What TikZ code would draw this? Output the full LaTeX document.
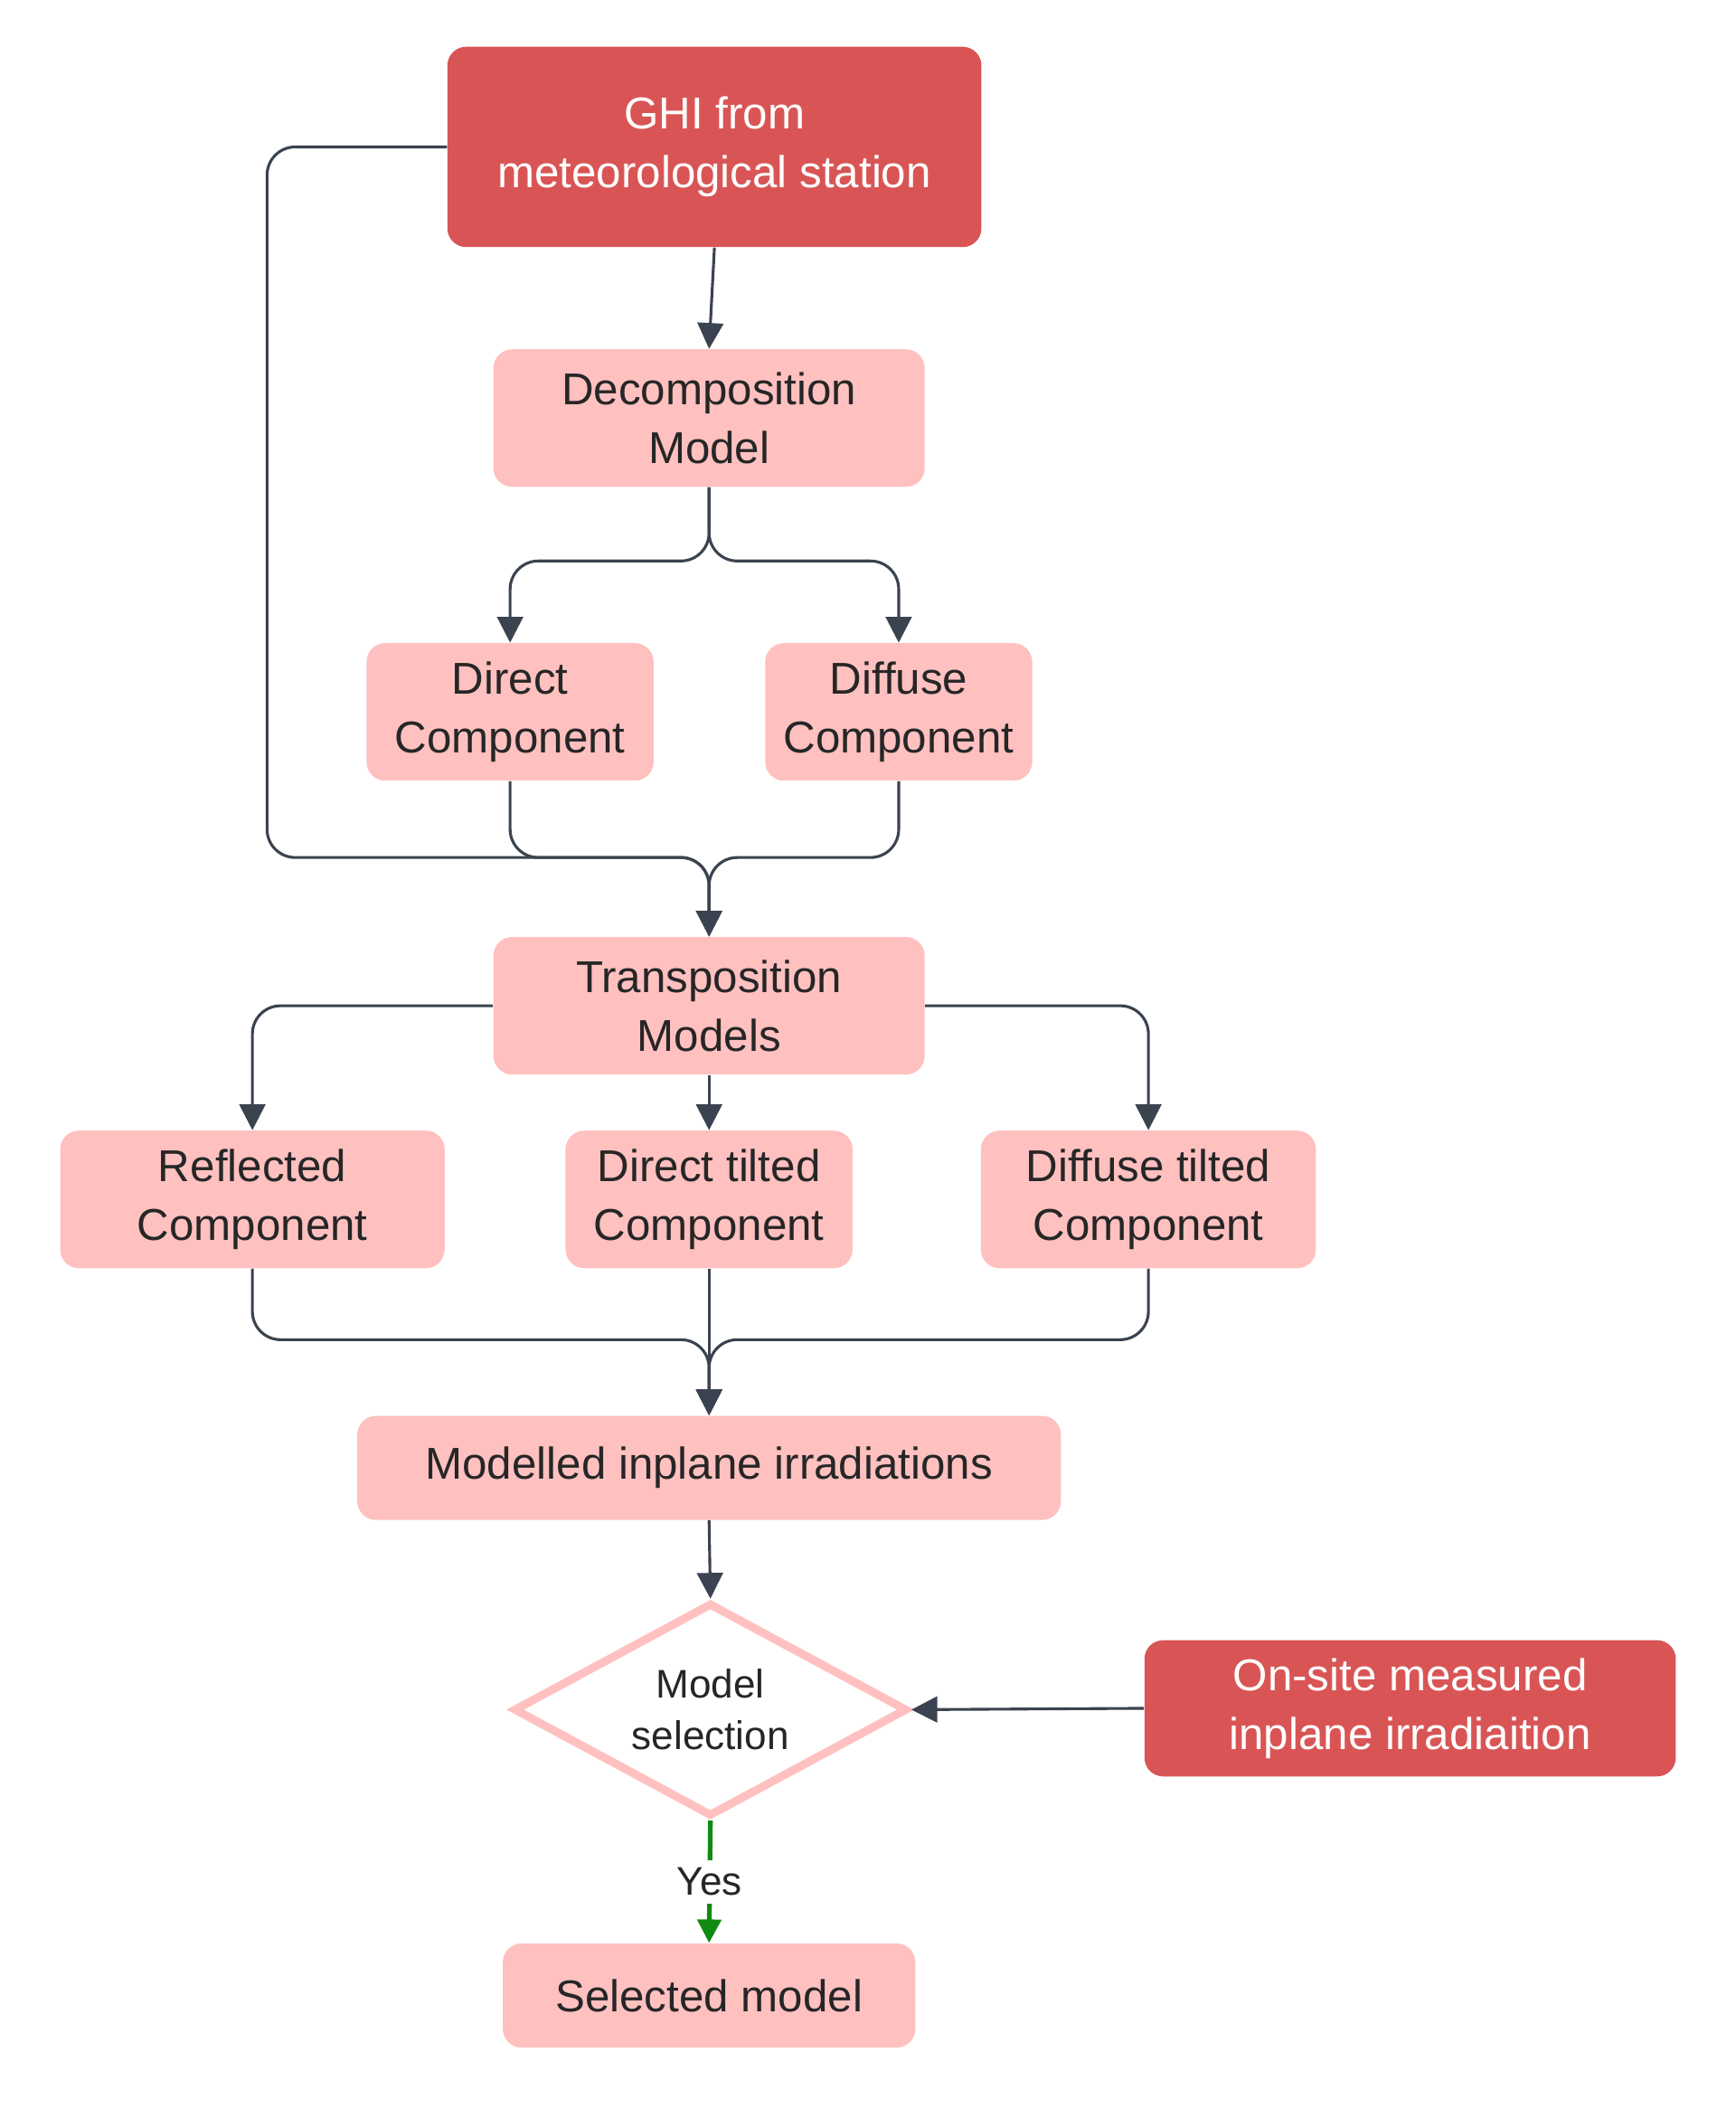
\documentclass[tikz,border=0pt]{standalone}
\usepackage{fontspec}
\setmainfont{Liberation Sans}
\usetikzlibrary{shapes.geometric,arrows.meta}
\definecolor{darkred}{HTML}{D95555}
\definecolor{lightred}{HTML}{FFC0C0}
\definecolor{linegray}{HTML}{3B4350}
\definecolor{yesgreen}{HTML}{108A10}
\tikzset{
	box/.style={rectangle, rounded corners=8pt, fill=lightred, text=black!85, align=center,
		font=\fontsize{19}{25}\selectfont, inner sep=0pt},
	src/.style={box, fill=darkred, text=white},
	decision/.style={diamond, draw=lightred, line width=3.5pt, fill=white, inner sep=0pt,
		minimum width=5.9cm, minimum height=3.2cm},
	link/.style={draw=linegray, line width=1.2pt, rounded corners=12pt,
		-{Triangle[width=11pt,length=11pt]}},
	yeslink/.style={draw=yesgreen, line width=2pt, -{Triangle[width=10pt,length=10pt]}}
}
\begin{document}
\begin{tikzpicture}[x=0.02cm,y=-0.02cm]
	\useasboundingbox (0,0) rectangle (1300,1579);
	% top of chart
	\node[src, minimum width=8cm, minimum height=3cm] (ghi) at (535,110) {GHI from\\meteorological station};
	\node[box, minimum width=6.46cm, minimum height=2.06cm] (dec) at (531,313) {Decomposition\\Model};
	\node[box, minimum width=4.3cm, minimum height=2.06cm] (dir) at (382,533) {Direct\\Component};
	\node[box, minimum width=4cm, minimum height=2.06cm] (dif) at (673,533) {Diffuse\\Component};
	\node[box, minimum width=6.46cm, minimum height=2.06cm] (tra) at (531,753) {Transposition\\Models};
	% tilted components
	\node[box, minimum width=5.76cm, minimum height=2.06cm] (ref) at (189,898) {Reflected\\Component};
	\node[box, minimum width=4.3cm, minimum height=2.06cm] (dirt) at (531,898) {Direct tilted\\Component};
	\node[box, minimum width=5.02cm, minimum height=2.06cm] (dift) at (860,898) {Diffuse tilted\\Component};
	\node[box, minimum width=10.54cm, minimum height=1.56cm] (mod) at (531,1099) {Modelled inplane irradiations};
	% selection
	\node[decision] (sel) at (532,1280) {};
	\node[align=center, text=black!85, font=\fontsize{17}{22}\selectfont] (seltxt) at (sel) {Model\\selection};
	\node[src, minimum width=7.96cm, minimum height=2.04cm] (ons) at (1056,1279) {On-site measured\\inplane irradiaition};
	\node[box, minimum width=6.18cm, minimum height=1.56cm] (out) at (531,1494) {Selected model};

	\draw[link] (ghi.south) -- (dec.north);
	\draw[link] (ghi.west) -- (200,110) -- (200,642) -- (531,642) -- (tra.north);
	\draw[link] (dec.south) -- (531,420) -- (382,420) -- (dir.north);
	\draw[link] (dec.south) -- (531,420) -- (673,420) -- (dif.north);
	\draw[link] (dir.south) -- (382,642) -- (531,642) -- (tra.north);
	\draw[link] (dif.south) -- (673,642) -- (531,642) -- (tra.north);
	\draw[link] (tra.west) -- (189,753) -- (ref.north);
	\draw[link] (tra.east) -- (860,753) -- (dift.north);
	\draw[link] (tra.south) -- (dirt.north);
	\draw[link] (ref.south) -- (189,1003) -- (531,1003) -- (mod.north);
	\draw[link] (dift.south) -- (860,1003) -- (531,1003) -- (mod.north);
	\draw[link] (dirt.south) -- (mod.north);
	\draw[link] (mod.south) -- (sel.north);
	\draw[link] (ons.west) -- (sel.east);
	\draw[yeslink] (sel.south) -- node[fill=white, text=black!85, font=\fontsize{17}{20}\selectfont] (yes) {Yes} (out.north);
\end{tikzpicture}
\end{document}
